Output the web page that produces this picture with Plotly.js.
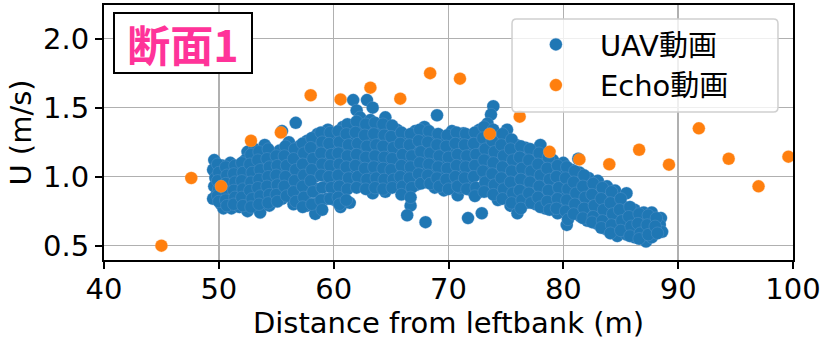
<!DOCTYPE html>
<html>
<head>
<meta charset="utf-8">
<script src="https://cdn.plot.ly/plotly-3.0.1.min.js"></script>
<style>html,body{margin:0;padding:0;background:#fff;}#chart{width:827px;height:350px;}</style>
</head>
<body>
<div id="chart"></div>
<script>
// ---- data ----
const uavName = "UAV動画";
const echoName = "Echo動画";
const sectionLabel = "断面1";
const xTitle = "Distance from leftbank (m)";
const yTitle = "U (m/s)";

const echoX = [45.0, 47.6, 50.2, 52.8, 55.4, 58.0, 60.6, 63.2, 65.8, 68.4, 71.0,
               73.6, 76.2, 78.8, 81.4, 84.0, 86.6, 89.2, 91.8, 94.4, 97.0, 99.6];
const echoY = [0.50, 0.99, 0.93, 1.26, 1.32, 1.59, 1.56, 1.645, 1.565, 1.75, 1.71,
               1.31, 1.435, 1.18, 1.125, 1.09, 1.195, 1.087, 1.35, 1.13, 0.93, 1.145];

const uavX = [
  49.6, 49.5, 49.7, 49.6, 49.8, 49.5,
  50.3, 50.2, 50.4, 50.3, 50.5, 50.2, 50.4,
  51.0, 51.1, 50.9, 51.0, 51.2, 50.9, 51.1,
  51.7, 51.6, 51.8, 51.7, 51.6, 51.8,
  52.5, 52.3, 52.4, 52.6, 52.4, 52.3, 52.5, 52.5,
  53.1, 53.2, 53.0, 53.2, 53.1, 53.0, 53.3, 53.6,
  54.0, 53.8, 53.9, 54.0, 53.8, 53.9, 54.1, 54.4,
  54.6, 54.7, 54.8, 54.6, 54.7, 54.8,
  55.5, 55.3, 55.4, 55.5, 55.3, 55.4, 55.5,
  56.7, 56.1, 56.2, 56.3, 56.1, 56.2, 56.3, 56.5,
  57.0, 56.9, 57.1, 57.0, 56.9, 57.1,
  57.7, 57.8, 57.6, 57.7, 57.8, 57.6, 57.7,
  58.6, 58.4, 58.5, 58.6, 58.4, 58.5, 58.6, 58.4,
  59.5, 59.2, 59.3, 59.4, 59.2, 59.3, 59.4,
  60.1, 60.0, 60.2, 60.1, 60.0, 60.2, 60.1,
  60.8, 60.9, 60.7, 60.8, 60.9, 60.7, 60.8, 60.6,
  61.7, 61.5, 61.6, 61.7, 61.5, 61.6, 61.7, 61.4,
  62.0, 62.3, 62.9, 62.4, 62.3, 62.5, 62.4, 62.3, 62.5,
  63.4, 63.2, 63.1, 63.3, 63.2, 63.1, 63.3, 63.4,
  64.0, 64.1, 63.9, 64.0, 64.1, 63.9,
  64.5, 64.8, 64.7, 64.6, 64.8, 64.7, 64.5,
  65.5, 65.4, 65.6, 65.5, 65.4, 65.6,
  66.3, 66.2, 66.4, 66.3, 66.2, 66.4, 66.7, 66.4,
  67.1, 67.0, 67.2, 67.1, 67.0, 67.2,
  67.9, 67.8, 68.0, 67.9, 67.8, 68.0, 68.0,
  69.0, 68.7, 68.6, 68.8, 68.7, 68.6, 68.8,
  69.5, 69.4, 69.6, 69.5, 69.4, 69.6,
  70.3, 70.2, 70.4, 70.3, 70.2, 70.4, 70.8,
  71.3, 71.1, 71.0, 71.2, 71.1, 71.0, 71.7,
  71.9, 71.8, 72.0, 71.9, 71.8, 72.0,
  72.7, 72.6, 72.8, 72.7, 72.6, 72.5, 72.9,
  73.9, 73.7, 73.4, 73.5, 73.6, 73.4, 73.5, 73.6, 73.4,
  74.3, 74.2, 74.4, 74.3, 74.2, 74.4, 74.3,
  75.1, 75.0, 75.2, 75.1, 75.0, 75.2, 75.4,
  75.9, 75.8, 76.0, 75.9, 75.8, 76.0, 76.0,
  76.7, 76.6, 76.8, 76.7, 76.6, 76.8,
  77.5, 77.4, 77.6, 77.5, 77.4, 77.6,
  78.0, 78.3, 78.2, 78.4, 78.3, 78.2, 78.4,
  79.1, 79.0, 79.2, 79.1, 79.0, 79.5,
  80.0, 79.9, 79.8, 80.0, 79.9, 80.3,
  80.7, 80.6, 80.8, 80.7, 80.6,
  81.3, 81.4, 81.5, 81.4, 81.2, 81.5,
  82.2, 82.1, 82.3, 82.2, 82.1,
  83.0, 82.9, 83.1, 83.0, 82.9,
  83.8, 83.7, 83.9, 83.8, 83.7,
  84.5, 84.6, 84.7, 84.6, 84.7,
  85.5, 85.3, 85.4, 85.3, 85.5,
  86.2, 86.1, 86.3, 86.2,
  87.0, 86.9, 87.1, 87.2,
  87.7, 87.8, 87.6, 87.7,
  88.5, 88.4, 88.6,
  // in-between points
  49.9, 50.0, 49.9, 50.0, 49.9, 50.0,
  50.6, 50.7, 50.6, 50.7, 50.6, 50.7,
  51.4, 51.3, 51.4, 51.3, 51.4, 51.3,
  52.0, 52.1, 52.0, 52.1, 52.0, 52.1,
  52.8, 52.7, 52.9, 52.8, 52.7, 52.9, 52.8,
  53.5, 53.4, 53.6, 53.5, 53.4, 53.6, 53.5,
  54.3, 54.2, 54.4, 54.3, 54.2, 54.4, 54.3,
  55.0, 55.1, 55.0, 55.1, 55.0, 55.1,
  55.8, 55.7, 55.9, 55.8, 55.7, 55.9,
  56.6, 56.5, 56.7, 56.6, 56.5, 56.7,
  57.3, 57.4, 57.3, 57.4, 57.3, 57.4, 57.3,
  58.1, 58.0, 58.2, 58.1, 58.0, 58.2, 58.1,
  58.9, 59.0, 58.9, 59.0, 58.9, 59.0, 58.9, 59.0,
  59.7, 59.6, 59.8, 59.7, 59.6, 59.8, 59.7,
  60.4, 60.5, 60.4, 60.5, 60.4, 60.5, 60.4, 60.5,
  61.2, 61.1, 61.3, 61.2, 61.1, 61.3, 61.2, 61.1,
  62.0, 61.9, 62.1, 62.0, 61.9, 62.1, 62.0,
  62.8, 62.7, 62.9, 62.8, 62.7, 62.9, 62.8,
  63.6, 63.5, 63.7, 63.6, 63.5, 63.7, 63.6,
  64.3, 64.4, 64.3, 64.4, 64.3, 64.4, 64.3,
  65.1, 65.0, 65.2, 65.1, 65.0, 65.2, 65.1,
  65.9, 65.8, 66.0, 65.9, 65.8, 66.0, 65.9,
  66.7, 66.6, 66.8, 66.7, 66.6, 66.8, 66.7,
  67.5, 67.4, 67.6, 67.5, 67.4, 67.6,
  68.3, 68.2, 68.4, 68.3, 68.2, 68.4,
  69.1, 69.0, 69.2, 69.1, 69.0, 69.2,
  69.9, 69.8, 70.0, 69.9, 69.8, 70.0,
  70.7, 70.6, 70.8, 70.7, 70.6, 70.8,
  71.5, 71.4, 71.6, 71.5, 71.4, 71.6,
  72.3, 72.2, 72.4, 72.3, 72.2, 72.4, 72.3,
  73.1, 73.0, 73.2, 73.1, 73.0, 73.2, 73.1,
  73.9, 73.8, 74.0, 73.9, 73.8, 74.0, 73.9,
  74.7, 74.6, 74.8, 74.7, 74.6, 74.8, 74.7,
  75.5, 75.4, 75.6, 75.5, 75.4, 75.6, 75.5,
  76.3, 76.2, 76.4, 76.3, 76.2, 76.4, 76.3,
  77.1, 77.0, 77.2, 77.1, 77.0, 77.2,
  77.9, 77.8, 78.0, 77.9, 77.8, 78.0,
  78.7, 78.6, 78.8, 78.7, 78.6, 78.8,
  79.5, 79.4, 79.6, 79.5, 79.4,
  80.3, 80.2, 80.4, 80.3, 80.2, 80.4,
  81.0, 80.9, 81.1, 81.0, 80.9,
  81.8, 81.7, 81.9, 81.8, 81.7,
  82.6, 82.5, 82.7, 82.6, 82.5,
  83.4, 83.3, 83.5, 83.4, 83.3,
  84.2, 84.1, 84.3, 84.2, 84.1,
  85.0, 84.9, 85.1, 85.0,
  85.8, 85.7, 85.9, 85.8,
  86.6, 86.5, 86.7, 86.6,
  87.4, 87.3, 87.4,
  88.1, 88.0, 88.2
];
const uavY = [
  1.12, 1.05, 0.99, 0.93, 0.87, 0.84,
  1.08, 1.02, 0.96, 0.90, 0.85, 0.80, 0.77,
  1.10, 1.04, 0.98, 0.92, 0.86, 0.81, 0.77,
  1.06, 0.99, 0.94, 0.88, 0.83, 0.78,
  1.18, 1.12, 1.05, 0.99, 0.93, 0.87, 0.81, 0.75,
  1.20, 1.14, 1.07, 1.01, 0.94, 0.88, 0.82, 0.74,
  1.23, 1.16, 1.10, 1.03, 0.96, 0.90, 0.84, 0.79,
  1.17, 1.11, 1.04, 0.97, 0.90, 0.83,
  1.33, 1.19, 1.12, 1.05, 0.98, 0.91, 0.84,
  1.39, 1.25, 1.18, 1.10, 1.02, 0.94, 0.86, 0.80,
  1.22, 1.15, 1.07, 1.00, 0.92, 0.84,
  1.26, 1.19, 1.11, 1.03, 0.95, 0.87, 0.79,
  1.31, 1.24, 1.16, 1.08, 1.00, 0.91, 0.81, 0.73,
  1.34, 1.26, 1.18, 1.10, 1.02, 0.93, 0.84,
  1.30, 1.22, 1.14, 1.06, 0.98, 0.90, 0.83,
  1.36, 1.28, 1.20, 1.12, 1.04, 0.96, 0.88, 0.78,
  1.555, 1.37, 1.29, 1.21, 1.13, 1.05, 0.97, 0.81,
  1.48, 1.43, 1.555, 1.35, 1.27, 1.19, 1.11, 1.03, 0.95,
  1.50, 1.41, 1.33, 1.25, 1.17, 1.09, 1.01, 0.88,
  1.36, 1.28, 1.20, 1.12, 1.04, 0.96,
  1.43, 1.33, 1.25, 1.17, 1.09, 1.01, 0.89,
  1.34, 1.26, 1.18, 1.10, 1.02, 0.95,
  1.30, 1.22, 1.14, 1.06, 0.98, 0.90, 0.79, 0.72,
  1.33, 1.25, 1.17, 1.09, 1.01, 0.94,
  1.36, 1.28, 1.20, 1.12, 1.04, 0.96, 0.67,
  1.445, 1.30, 1.22, 1.14, 1.06, 0.98, 0.92,
  1.28, 1.20, 1.12, 1.04, 0.96, 0.90,
  1.33, 1.25, 1.17, 1.09, 1.01, 0.93, 0.865,
  1.315, 1.24, 1.16, 1.08, 1.00, 0.92, 0.70,
  1.30, 1.22, 1.14, 1.06, 0.98, 0.90,
  1.34, 1.26, 1.18, 1.10, 1.02, 0.88, 0.735,
  1.51, 1.45, 1.385, 1.30, 1.22, 1.14, 1.06, 0.98, 0.91,
  1.30, 1.22, 1.14, 1.06, 0.98, 0.90, 0.83,
  1.34, 1.25, 1.17, 1.09, 1.01, 0.93, 0.79,
  1.23, 1.16, 1.08, 1.00, 0.92, 0.85, 0.735,
  1.21, 1.13, 1.05, 0.97, 0.89, 0.81,
  1.19, 1.11, 1.03, 0.95, 0.87, 0.80,
  1.23, 1.15, 1.07, 0.99, 0.91, 0.84, 0.77,
  1.12, 1.04, 0.96, 0.88, 0.80, 0.735,
  1.10, 1.03, 0.95, 0.87, 0.79, 0.65,
  1.05, 0.98, 0.90, 0.82, 0.74,
  1.13, 1.03, 0.95, 0.87, 0.79, 0.71,
  0.99, 0.91, 0.83, 0.75, 0.68,
  0.97, 0.89, 0.81, 0.73, 0.66,
  0.93, 0.85, 0.77, 0.69, 0.62,
  0.90, 0.82, 0.74, 0.66, 0.57,
  0.88, 0.78, 0.71, 0.64, 0.58,
  0.76, 0.69, 0.62, 0.56,
  0.74, 0.67, 0.60, 0.53,
  0.74, 0.68, 0.62, 0.56,
  0.70, 0.65, 0.60,
  // in-between points
  1.09, 1.03, 0.97, 0.91, 0.86, 0.82,
  1.07, 1.01, 0.95, 0.89, 0.83, 0.79,
  1.08, 1.02, 0.96, 0.90, 0.85, 0.80,
  1.10, 1.03, 0.97, 0.91, 0.85, 0.79,
  1.16, 1.09, 1.03, 0.96, 0.90, 0.84, 0.78,
  1.18, 1.12, 1.05, 0.98, 0.92, 0.86, 0.80,
  1.20, 1.13, 1.07, 1.00, 0.93, 0.87, 0.81,
  1.15, 1.08, 1.01, 0.94, 0.87, 0.82,
  1.22, 1.15, 1.08, 1.00, 0.93, 0.86,
  1.20, 1.13, 1.05, 0.97, 0.89, 0.82,
  1.24, 1.17, 1.09, 1.01, 0.93, 0.85, 0.78,
  1.28, 1.21, 1.13, 1.05, 0.97, 0.89, 0.80,
  1.32, 1.25, 1.17, 1.09, 1.01, 0.92, 0.83, 0.76,
  1.32, 1.24, 1.16, 1.08, 1.00, 0.92, 0.84,
  1.33, 1.25, 1.17, 1.09, 1.01, 0.93, 0.85, 0.80,
  1.38, 1.31, 1.23, 1.15, 1.07, 0.99, 0.91, 0.83,
  1.40, 1.32, 1.24, 1.16, 1.08, 1.00, 0.92,
  1.38, 1.30, 1.22, 1.14, 1.06, 0.98, 0.91,
  1.39, 1.31, 1.23, 1.15, 1.07, 0.99, 0.92,
  1.38, 1.30, 1.22, 1.14, 1.06, 0.98, 0.91,
  1.37, 1.29, 1.21, 1.13, 1.05, 0.98, 0.92,
  1.32, 1.24, 1.16, 1.08, 1.00, 0.93, 0.87,
  1.31, 1.23, 1.15, 1.07, 0.99, 0.92, 0.85,
  1.34, 1.26, 1.18, 1.10, 1.02, 0.95,
  1.33, 1.25, 1.17, 1.09, 1.01, 0.95,
  1.31, 1.23, 1.15, 1.07, 0.99, 0.93,
  1.30, 1.22, 1.14, 1.06, 0.98, 0.91,
  1.32, 1.24, 1.16, 1.08, 1.00, 0.93,
  1.31, 1.23, 1.15, 1.07, 0.99, 0.91,
  1.32, 1.24, 1.16, 1.08, 1.00, 0.92, 0.86,
  1.36, 1.28, 1.20, 1.12, 1.04, 0.96, 0.89,
  1.34, 1.26, 1.18, 1.10, 1.02, 0.94, 0.87,
  1.31, 1.23, 1.15, 1.07, 0.99, 0.91, 0.84,
  1.27, 1.20, 1.12, 1.04, 0.96, 0.88, 0.81,
  1.22, 1.14, 1.06, 0.98, 0.90, 0.83, 0.77,
  1.20, 1.12, 1.04, 0.96, 0.88, 0.81,
  1.17, 1.09, 1.01, 0.93, 0.85, 0.78,
  1.14, 1.06, 0.98, 0.90, 0.82, 0.76,
  1.08, 1.00, 0.92, 0.84, 0.77,
  1.07, 0.99, 0.91, 0.83, 0.75, 0.69,
  1.04, 0.96, 0.88, 0.80, 0.73,
  1.01, 0.93, 0.85, 0.77, 0.70,
  0.95, 0.87, 0.79, 0.71, 0.67,
  0.92, 0.84, 0.76, 0.68, 0.63,
  0.89, 0.81, 0.73, 0.65, 0.59,
  0.84, 0.76, 0.68, 0.61,
  0.78, 0.71, 0.64, 0.57,
  0.73, 0.66, 0.59, 0.55,
  0.72, 0.65, 0.58,
  0.70, 0.64, 0.59
];

const xTicks = [40, 50, 60, 70, 80, 90, 100];
const yTicks = [0.5, 1.0, 1.5, 2.0];

// ---- figure ----
const baseFont = "DejaVu Sans, Noto Sans CJK JP, sans-serif";
const fs = 29;

const traces = [
  {
    type: "scatter", mode: "markers", name: uavName,
    x: uavX, y: uavY,
    marker: {color: "#1f77b4", size: 12.5, line: {width: 0.6, color: "rgba(110,160,210,0.5)"}},
    hoverinfo: "x+y"
  },
  {
    type: "scatter", mode: "markers", name: echoName,
    x: echoX, y: echoY,
    marker: {color: "#ff7f0e", size: 12.5, line: {width: 0.6, color: "rgba(255,185,120,0.5)"}},
    hoverinfo: "x+y"
  }
];

const axisCommon = {
  showline: true, linecolor: "#000", linewidth: 2, mirror: true,
  showgrid: true, gridcolor: "#b0b0b0", gridwidth: 1.6,
  ticks: "outside", ticklen: 7, tickwidth: 2, tickcolor: "#000",
  zeroline: false,
  tickfont: {family: baseFont, size: fs, color: "#000"}
};

// legend frame (rounded box) in paper coordinates
const lx0 = 0.5922, lx1 = 0.9782, ly0 = 0.5804, ly1 = 0.9451, rx = 0.0065, ry = 0.0175;
const legendFrame =
  `M ${lx0 + rx},${ly1} L ${lx1 - rx},${ly1} Q ${lx1},${ly1} ${lx1},${ly1 - ry} ` +
  `L ${lx1},${ly0 + ry} Q ${lx1},${ly0} ${lx1 - rx},${ly0} L ${lx0 + rx},${ly0} ` +
  `Q ${lx0},${ly0} ${lx0},${ly0 + ry} L ${lx0},${ly1 - ry} Q ${lx0},${ly1} ${lx0 + rx},${ly1} Z`;

const layout = {
  width: 827, height: 350,
  margin: {l: 104, r: 34, t: 5, b: 90, pad: 0},
  paper_bgcolor: "#fff", plot_bgcolor: "#fff",
  showlegend: true,
  font: {family: baseFont, color: "#000"},
  xaxis: Object.assign({}, axisCommon, {
    range: [40, 100], tickvals: xTicks, ticktext: xTicks.map(String),
    ticklabelstandoff: -5,
    title: {text: xTitle, font: {family: baseFont, size: fs, color: "#000"}, standoff: 6}
  }),
  yaxis: Object.assign({}, axisCommon, {
    range: [0.396, 2.244], tickvals: yTicks, ticktext: yTicks.map(v => v.toFixed(1)),
    title: {text: yTitle, font: {family: baseFont, size: fs, color: "#000"}, standoff: 3}
  }),
  shapes: [{
    type: "path", xref: "paper", yref: "paper", layer: "above",
    path: legendFrame,
    fillcolor: "rgba(255,255,255,0.8)",
    line: {color: "#d0d0d0", width: 1.5}
  }],
  legend: {
    x: 0.592, y: 0.945, xanchor: "left", yanchor: "top",
    bgcolor: "rgba(0,0,0,0)", borderwidth: 0,
    font: {family: baseFont, size: fs, color: "#000"},
    itemwidth: 78
  },
  annotations: [{
    text: "<b>" + sectionLabel + "</b>",
    xref: "paper", yref: "paper", x: 0.013, y: 0.973,
    xanchor: "left", yanchor: "top", showarrow: false,
    font: {family: "Noto Sans CJK JP, sans-serif", size: 43, color: "#ff3399"},
    bgcolor: "#fff", bordercolor: "#000", borderwidth: 2,
    width: 134, height: 56
  }]
};

Plotly.newPlot("chart", traces, layout, {staticPlot: true, displayModeBar: false});
</script>
</body>
</html>
